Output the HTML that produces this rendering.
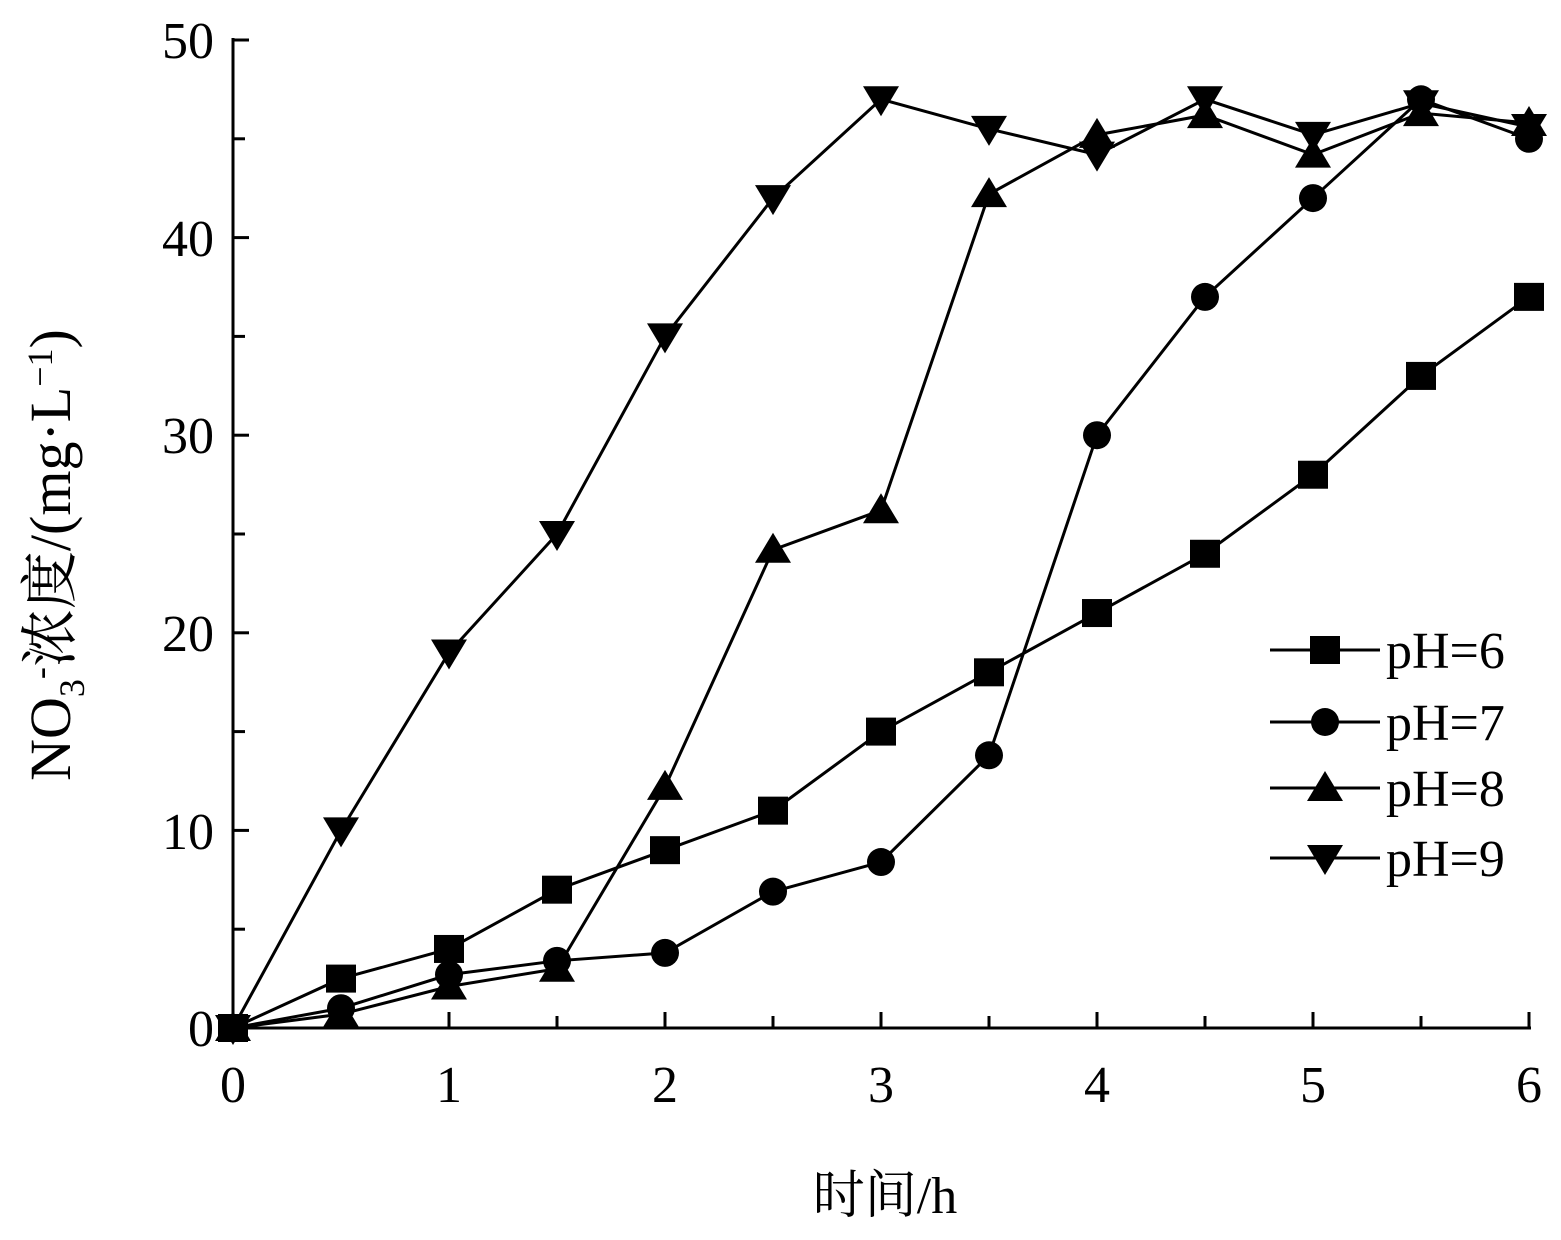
<!DOCTYPE html>
<html><head><meta charset="utf-8"><style>
html,body{margin:0;padding:0;background:#fff}
svg{display:block}
text{font-family:"Liberation Serif","Noto Serif CJK SC",serif;fill:#000}
</style></head><body>
<svg id="s" width="1561" height="1240" viewBox="0 0 1561 1240" xmlns="http://www.w3.org/2000/svg">
<g stroke="#000" stroke-width="3" fill="none">
<line x1="233" y1="38" x2="233" y2="1029"/>
<line x1="232" y1="1028" x2="1531" y2="1028"/>
</g>
<g id="ticks" stroke="#000" stroke-width="3"></g>
<g id="series"></g>
<g font-size="52" text-anchor="end">
<text x="214" y="1046">0</text><text x="214" y="849">10</text><text x="214" y="651">20</text>
<text x="214" y="453">30</text><text x="214" y="256">40</text><text x="214" y="58">50</text>
</g>
<g font-size="52" text-anchor="middle">
<text x="233" y="1102">0</text><text x="449" y="1102">1</text><text x="665" y="1102">2</text>
<text x="881" y="1102">3</text><text x="1097" y="1102">4</text><text x="1313" y="1102">5</text><text x="1529" y="1102">6</text>
</g>
<text x="885" y="1213" font-size="52" text-anchor="middle">时间/h</text>
<text transform="translate(70,555) rotate(-90)" font-size="58" text-anchor="middle">NO<tspan font-size="36" dy="14">3</tspan><tspan dy="-32" font-size="36">-</tspan><tspan dy="18">浓度/(mg·L</tspan><tspan font-size="36" dy="-18">−1</tspan><tspan dy="18">)</tspan></text>
<g font-size="52">
<text x="1386" y="668">pH=6</text><text x="1386" y="740">pH=7</text>
<text x="1386" y="806">pH=8</text><text x="1386" y="876">pH=9</text>
</g>
</svg>
<script>
var NS="http://www.w3.org/2000/svg",s=document.getElementById('series'),t=document.getElementById('ticks');
function X(v){return 233+v*216}function Y(v){return 1028-v*19.76}
function el(n,a,p){var e=document.createElementNS(NS,n);for(var k in a)e.setAttribute(k,a[k]);(p||s).appendChild(e);return e}
for(var i=0;i<=12;i++){var x=X(i/2);el('line',{x1:x,y1:1028,x2:x,y2:1028-(i%2?12:16)},t)}
for(var i=0;i<=10;i++){var y=Y(i*5);el('line',{x1:233,y1:y,x2:233+(i%2?12:16),y2:y},t)}
var D=[[0,2.5,4,7,9,11,15,18,21,24,28,33,37],
[0,1,2.7,3.4,3.8,6.9,8.4,13.8,30,37,42,47,45],
[0,0.7,2.1,3,12.2,24.2,26.2,42.2,45.2,46.2,44.2,46.3,45.8],
[0,10,19,25,35,42,47,45.5,44.2,47,45.2,46.8,45.6]];
function mk(k,x,y){
 if(k==0)el('rect',{x:x-15,y:y-14,width:30,height:28,fill:'#000'});
 else if(k==1)el('circle',{cx:x,cy:y,r:14,fill:'#000'});
 else if(k==2)el('polygon',{points:(x)+','+(y-17)+' '+(x-18)+','+(y+13)+' '+(x+18)+','+(y+13),fill:'#000'});
 else el('polygon',{points:(x)+','+(y+17)+' '+(x-18)+','+(y-13)+' '+(x+18)+','+(y-13),fill:'#000'});
}
D.forEach(function(d,k){
 el('polyline',{points:d.map(function(v,i){return X(i/2)+','+Y(v)}).join(' '),fill:'none',stroke:'#000','stroke-width':3});
 d.forEach(function(v,i){mk(k,X(i/2),Y(v))});
});
[650,722,788,858].forEach(function(y,k){el('line',{x1:1270,y1:y,x2:1380,y2:y,stroke:'#000','stroke-width':3});mk(k,1325,y)});
</script>
</body></html>
